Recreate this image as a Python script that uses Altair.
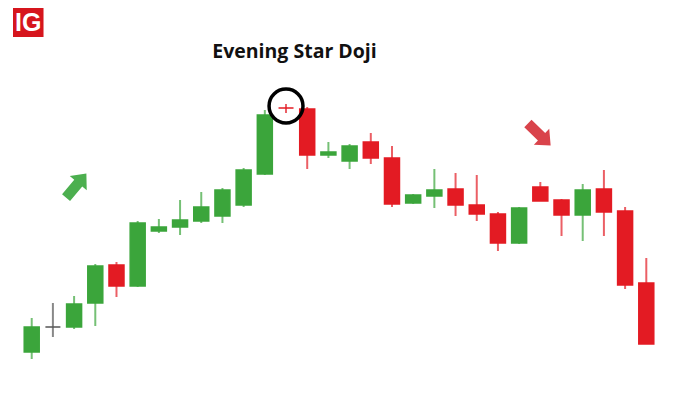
import altair as alt
import pandas as pd

# Candle data (price units; higher = up)
idx   = list(range(1, 31))
opens = [60, 85, 85, 109, 147, 126, 181, 185, 191, 196, 207, 238, 304, 303, 257,
         251, 270, 254, 209, 216, 223, 207, 198, 169, 225, 212, 197, 223, 201, 129]
closes = [85, 85, 108, 146, 126, 189, 185, 192, 205, 222, 242, 297, 304, 257, 260,
          266, 254, 208, 217, 222, 207, 198, 169, 204, 211, 197, 222, 200, 127, 68]
highs = [94, 109, 116, 148, 150, 191, 193, 212, 220, 224, 244, 302, 308, 305, 270,
         268, 279, 266, 218, 243, 239, 237, 200, 205, 230, 213, 228, 242, 205, 154]
lows  = [53, 75, 83, 86, 115, 125, 179, 177, 189, 189, 205, 237, 299, 243, 254,
         243, 248, 205, 208, 204, 196, 191, 161, 168, 211, 176, 171, 176, 123, 68]
kinds = ["up", "flat", "up", "up", "down", "up", "up", "up", "up", "up", "up", "up",
         "down", "down", "up", "up", "down", "down", "up", "up", "down", "down", "down",
         "up", "down", "down", "up", "down", "down", "down"]

title_text = "Evening Star Doji"
logo_text = "IG"

df = pd.DataFrame({"i": idx, "open": opens, "close": closes,
                   "high": highs, "low": lows, "kind": kinds})

X = alt.Scale(domain=[0.117, 30.93], nice=False, zero=False)
Y = alt.Scale(domain=[8, 404], nice=False, zero=False)
col = alt.Scale(domain=["up", "down", "flat"], range=["#3ba53b", "#e31b23", "#555555"])

base = alt.Chart(df)

wicks = base.mark_rule(strokeWidth=2, opacity=0.7).encode(
    x=alt.X("i:Q", scale=X, axis=None),
    y=alt.Y("low:Q", scale=Y, axis=None),
    y2="high:Q",
    color=alt.Color("kind:N", scale=col, legend=None),
)

bodies = base.mark_bar(size=15, strokeWidth=1.5).encode(
    x=alt.X("i:Q", scale=X, axis=None),
    y=alt.Y("open:Q", scale=Y, axis=None),
    y2="close:Q",
    color=alt.Color("kind:N", scale=col, legend=None),
    stroke=alt.Stroke("kind:N", scale=col, legend=None),
)

# Annotations
arrows = pd.DataFrame({"i": [3.1, 24.95], "p": [226.4, 277.4], "ang": [40, 134],
                       "c": ["#4caf4f", "#d9434b"]})
arrow_path = "M-0.33,1 L0.33,1 L0.33,-0.2 L0.7,-0.2 L0,-1 L-0.7,-0.2 L-0.33,-0.2 Z"
arrow_marks = alt.Chart(arrows).mark_point(
    shape=arrow_path, filled=True, size=1000, opacity=1, strokeWidth=0
).encode(
    x=alt.X("i:Q", scale=X, axis=None),
    y=alt.Y("p:Q", scale=Y, axis=None),
    angle=alt.Angle("ang:Q", scale=None),
    color=alt.Color("c:N", scale=None),
)

circle_df = pd.DataFrame({"i": [13.0], "p": [306]})
circle = alt.Chart(circle_df).mark_point(
    shape="circle", filled=False, size=1150, strokeWidth=3.5, color="black", opacity=1
).encode(
    x=alt.X("i:Q", scale=X, axis=None),
    y=alt.Y("p:Q", scale=Y, axis=None),
)

title_df = pd.DataFrame({"i": [13.4], "p": [354], "t": [title_text]})
title = alt.Chart(title_df).mark_text(
    font="Open Sans", fontWeight="bold", fontSize=19.5, color="#111111",
    baseline="alphabetic", align="center"
).encode(
    x=alt.X("i:Q", scale=X, axis=None),
    y=alt.Y("p:Q", scale=Y, axis=None),
    text="t:N",
)

logo_df = pd.DataFrame({"x0": [0.117], "x1": [1.557], "y0": [375], "y1": [404]})
logo = alt.Chart(logo_df).mark_rect(color="#d6151d").encode(
    x=alt.X("x0:Q", scale=X, axis=None), x2="x1:Q",
    y=alt.Y("y0:Q", scale=Y, axis=None), y2="y1:Q",
)
logo_t_df = pd.DataFrame({"i": [0.84], "p": [389.5], "t": [logo_text]})
logo_t = alt.Chart(logo_t_df).mark_text(
    font="Liberation Sans", fontWeight="bold", fontSize=25, color="white",
    baseline="middle", align="center"
).encode(
    x=alt.X("i:Q", scale=X, axis=None),
    y=alt.Y("p:Q", scale=Y, axis=None),
    text="t:N",
)

chart = alt.layer(logo, logo_t, title, arrow_marks, wicks, bodies, circle).properties(
    width=663, height=396,
    autosize=alt.AutoSizeParams(type="none"),
    padding={"left": 0, "right": 0, "top": 0, "bottom": 0},
    background="white",
).configure_view(stroke=None)

chart.save("out.html", embed_options={"renderer": "svg", "actions": False})
